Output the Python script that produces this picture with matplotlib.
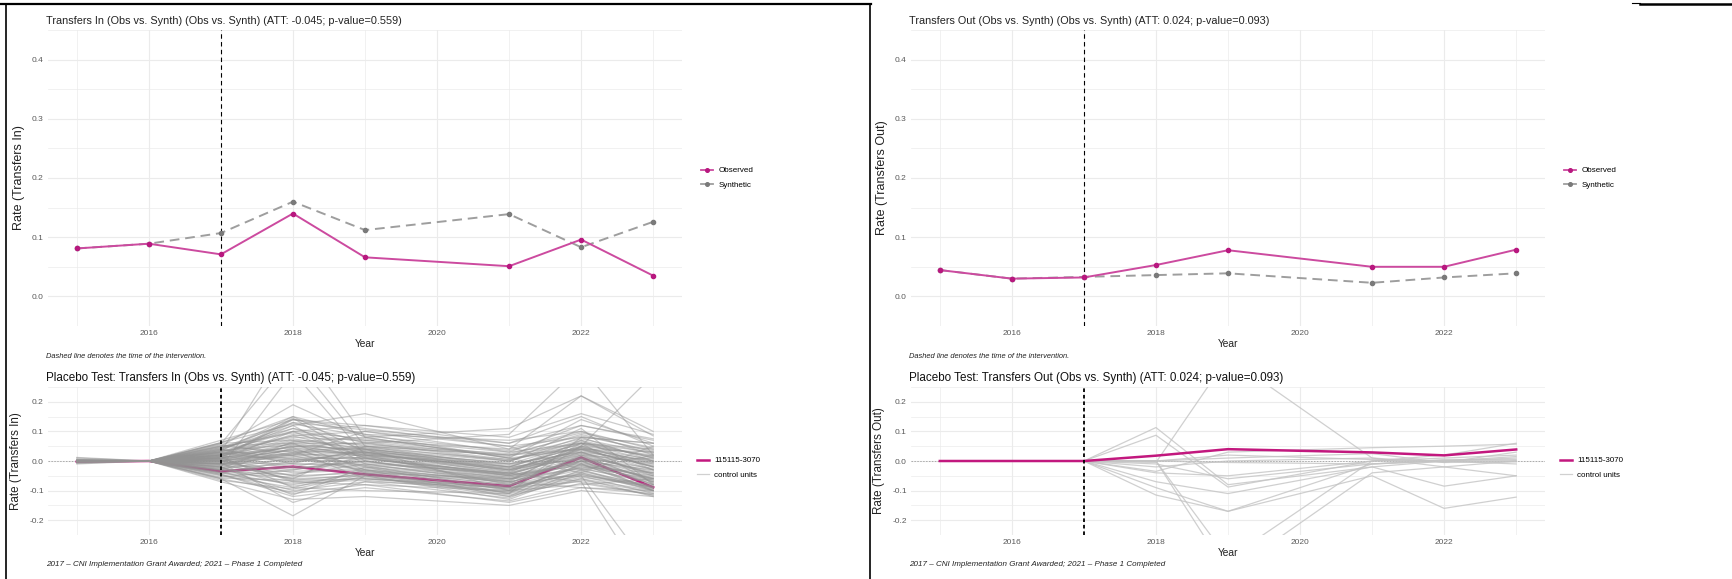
import matplotlib
matplotlib.use('Agg')
import matplotlib.pyplot as plt
from matplotlib.lines import Line2D
import numpy as np

plt.rcParams['font.family'] = ['Liberation Sans', 'DejaVu Sans']

W, H = 1732, 579

years = [2015, 2016, 2017, 2018, 2019, 2021, 2022, 2023]
intervention_year = 2017

### Transfers In: observed vs synthetic
in_observed = [0.081, 0.089, 0.071, 0.140, 0.066, 0.051, 0.096, 0.035]
in_synthetic = [0.081, 0.089, 0.107, 0.160, 0.112, 0.139, 0.083, 0.126]
in_title = 'Transfers In (Obs vs. Synth) (Obs vs. Synth) (ATT: -0.045; p-value=0.559)'
in_placebo_title = 'Placebo Test: Transfers In (Obs vs. Synth) (ATT: -0.045; p-value=0.559)'
in_ylabel = 'Rate (Transfers In)'

### Transfers Out: observed vs synthetic
out_observed = [0.0445, 0.030, 0.032, 0.053, 0.078, 0.050, 0.050, 0.079]
out_synthetic = [0.0445, 0.030, 0.033, 0.036, 0.039, 0.023, 0.032, 0.039]
out_title = 'Transfers Out (Obs vs. Synth) (Obs vs. Synth) (ATT: 0.024; p-value=0.093)'
out_placebo_title = 'Placebo Test: Transfers Out (Obs vs. Synth) (ATT: 0.024; p-value=0.093)'
out_ylabel = 'Rate (Transfers Out)'

treated_unit = '115115-3070'

### Placebo gaps (treated unit)
in_gap = [-0.002, 0.000, -0.035, -0.019, -0.045, -0.085, 0.012, -0.089]
out_gap = [0.000, 0.000, 0.000, 0.018, 0.040, 0.029, 0.019, 0.039]

### Placebo gaps (control units), one row per unit
in_controls = [
  [ 0.010, 0.0,  0.070,  0.140,  0.110,  0.050,  0.080,  0.060],
  [-0.010, 0.0,  0.062,  0.150,  0.090,  0.070,  0.100,  0.040],
  [ 0.005, 0.0,  0.050,  0.190,  0.080,  0.110,  0.220,  0.100],
  [ 0.000, 0.0,  0.040,  0.120,  0.160,  0.040,  0.220,  0.085],
  [-0.005, 0.0,  0.032,  0.100,  0.120,  0.060,  0.150,  0.050],
  [ 0.012, 0.0,  0.022,  0.085,  0.100,  0.030,  0.120,  0.070],
  [ 0.000, 0.0,  0.058,  0.350,  0.050,  0.020,  0.060,  0.030],
  [ 0.000, 0.0,  0.030,  0.420,  0.080,  0.010,  0.040,  0.000],
  [ 0.005, 0.0, -0.020,  0.300,  0.020, -0.020,  0.050,  0.020],
  [ 0.000, 0.0,  0.045,  0.130,  0.060,  0.090,  0.320,  0.020],
  [ 0.000, 0.0,  0.010,  0.050,  0.040, -0.100,  0.050,  0.290],
  [ 0.000, 0.0,  0.000,  0.020,  0.030, -0.040, -0.070, -0.450],
  [ 0.000, 0.0, -0.010, -0.030,  0.010, -0.060, -0.050, -0.380],
  [ 0.000, 0.0,  0.035,  0.140,  0.090,  0.010,  0.140,  0.060],
  [ 0.003, 0.0,  0.025,  0.110,  0.070,  0.020,  0.090,  0.030],
  [-0.004, 0.0,  0.015,  0.090,  0.050,  0.000,  0.070,  0.010],
  [ 0.000, 0.0,  0.020,  0.075,  0.040, -0.010,  0.060,  0.000],
  [ 0.000, 0.0,  0.010,  0.060,  0.030, -0.020,  0.050, -0.010],
  [ 0.006, 0.0,  0.005,  0.050,  0.020, -0.030,  0.040, -0.020],
  [ 0.000, 0.0,  0.000,  0.040,  0.040, -0.035,  0.030, -0.030],
  [ 0.000, 0.0, -0.005,  0.030,  0.030, -0.045,  0.020, -0.040],
  [-0.006, 0.0, -0.010,  0.020,  0.020, -0.050,  0.010, -0.050],
  [ 0.000, 0.0,  0.015,  0.010,  0.010, -0.055,  0.000, -0.060],
  [ 0.000, 0.0,  0.028,  0.000,  0.000, -0.060, -0.010, -0.070],
  [ 0.000, 0.0,  0.040, -0.010, -0.010, -0.070, -0.020, -0.040],
  [ 0.000, 0.0,  0.020, -0.020, -0.020, -0.075,  0.010, -0.080],
  [ 0.000, 0.0,  0.005, -0.040, -0.030, -0.080, -0.030, -0.090],
  [ 0.000, 0.0, -0.015, -0.050, -0.040, -0.090, -0.040, -0.100],
  [ 0.000, 0.0, -0.025, -0.060, -0.050, -0.095, -0.020, -0.060],
  [ 0.000, 0.0, -0.030, -0.070, -0.060, -0.100, -0.050, -0.110],
  [ 0.000, 0.0, -0.040, -0.080, -0.040, -0.110, -0.060, -0.120],
  [ 0.000, 0.0, -0.050, -0.090, -0.030, -0.120, -0.010, -0.100],
  [ 0.000, 0.0, -0.060, -0.105, -0.050, -0.130, -0.040, -0.090],
  [ 0.000, 0.0, -0.070, -0.130, -0.120, -0.150, -0.100, -0.120],
  [-0.008, 0.0, -0.060, -0.185, -0.050, -0.120, -0.060, -0.100],
  [ 0.000, 0.0, -0.045, -0.110, -0.080, -0.140, -0.090, -0.110],
  [ 0.000, 0.0, -0.035, -0.100, -0.070, -0.125, -0.030, -0.100],
  [ 0.000, 0.0, -0.020, -0.115, -0.020, -0.110,  0.000, -0.080],
  [ 0.000, 0.0, -0.010, -0.060,  0.050, -0.020,  0.060,  0.040],
  [ 0.000, 0.0,  0.000,  0.060,  0.060,  0.000,  0.080,  0.060],
  [ 0.000, 0.0,  0.030,  0.080,  0.070,  0.040,  0.100,  0.020],
  [ 0.000, 0.0,  0.050,  0.030,  0.050,  0.020,  0.040, -0.020],
  [ 0.000, 0.0,  0.060,  0.070,  0.020, -0.010,  0.030, -0.050],
  [ 0.000, 0.0,  0.020,  0.120, -0.010, -0.040,  0.070, -0.030],
  [ 0.000, 0.0, -0.030,  0.045, -0.040, -0.060,  0.000,  0.010],
  [ 0.000, 0.0,  0.010, -0.070, -0.080, -0.100, -0.080, -0.060],
  [ 0.000, 0.0, -0.040,  0.000,  0.030, -0.030,  0.040,  0.030],
  [ 0.000, 0.0,  0.025,  0.035, -0.060, -0.085,  0.020, -0.070],
  [ 0.000, 0.0, -0.055, -0.030,  0.000, -0.065,  0.050, -0.020],
  [ 0.000, 0.0,  0.045,  0.100,  0.010, -0.050,  0.000, -0.100],
  [ 0.000, 0.0, -0.025,  0.065,  0.080,  0.010, -0.040,  0.050],
  [ 0.000, 0.0,  0.015, -0.090, -0.100, -0.110,  0.080,  0.000],
  [ 0.000, 0.0,  0.035,  0.150,  0.030, -0.005,  0.110, -0.080],
  [ 0.000, 0.0, -0.005, -0.140, -0.070, -0.090, -0.070, -0.115],
  [ 0.000, 0.0,  0.008,  0.140,  0.120,  0.080,  0.160,  0.090],
  [ 0.000, 0.0,  0.055,  0.020,  0.100,  0.050, -0.030,  0.020],
  [ 0.000, 0.0, -0.012,  0.005, -0.005, -0.045,  0.025, -0.045],
  [ 0.000, 0.0,  0.012,  0.145,  0.000, -0.070, -0.090, -0.100],
  [ 0.000, 0.0,  0.000, -0.050,  0.020, -0.080,  0.000, -0.030],
  [ 0.000, 0.0, -0.018,  0.025, -0.015, -0.100, -0.015, -0.065],
  [ 0.004, 0.0,  0.018,  0.065,  0.045,  0.005,  0.055,  0.015],
  [-0.003, 0.0,  0.008,  0.035,  0.025, -0.025,  0.035, -0.015],
  [ 0.000, 0.0, -0.008,  0.015,  0.005, -0.040,  0.015, -0.035],
  [ 0.000, 0.0, -0.022, -0.010, -0.015, -0.055, -0.005, -0.055],
  [ 0.000, 0.0, -0.032, -0.035, -0.025, -0.070, -0.025, -0.075],
  [ 0.000, 0.0, -0.042, -0.055, -0.035, -0.085, -0.045, -0.095],
  [ 0.000, 0.0,  0.036,  0.055,  0.035, -0.015,  0.045,  0.005],
  [ 0.000, 0.0,  0.048,  0.095,  0.065,  0.015,  0.075,  0.025],
  [ 0.000, 0.0,  0.062,  0.125,  0.085,  0.035,  0.095,  0.045],
  [ 0.000, 0.0, -0.048, -0.075, -0.065, -0.105, -0.055, -0.085],
  [ 0.000, 0.0, -0.065, -0.095, -0.045, -0.115, -0.065, -0.105],
  [ 0.000, 0.0,  0.003,  0.025,  0.045, -0.030,  0.010, -0.025],
  [ 0.000, 0.0,  0.022,  0.045,  0.015, -0.045,  0.030, -0.045],
  [ 0.000, 0.0, -0.028,  0.010, -0.030, -0.065,  0.005, -0.060],
  [ 0.000, 0.0,  0.012, -0.025,  0.000, -0.050, -0.015, -0.050],
  [ 0.000, 0.0,  0.032,  0.085,  0.025, -0.025,  0.025, -0.010],
  [ 0.000, 0.0, -0.015,  0.055,  0.015, -0.035,  0.045, -0.030],
  [ 0.000, 0.0,  0.002, -0.065, -0.045, -0.095, -0.035, -0.085],
  [ 0.000, 0.0,  0.042,  0.110,  0.040,  0.000,  0.065,  0.010],
  [ 0.000, 0.0, -0.038, -0.045, -0.010, -0.075,  0.015, -0.065],
  [ 0.000, 0.0,  0.027, -0.005,  0.035, -0.020,  0.005, -0.040],
  [ 0.000, 0.0, -0.002,  0.040, -0.020, -0.060, -0.025, -0.070],
  [ 0.000, 0.0,  0.016,  0.070,  0.055,  0.025,  0.085,  0.035],
  [ 0.000, 0.0, -0.045, -0.120, -0.090, -0.135, -0.075, -0.115],
  [ 0.000, 0.0,  0.052,  0.060, -0.030, -0.080, -0.045, -0.090],
  [ 0.000, 0.0, -0.020, -0.085, -0.055, -0.105, -0.010, -0.095],
  [ 0.000, 0.0,  0.006,  0.100,  0.075,  0.030,  0.060,  0.015],
  [ 0.000, 0.0, -0.010,  0.028,  0.008, -0.042,  0.038, -0.018],
  [ 0.000, 0.0,  0.038,  0.005,  0.012, -0.048, -0.008, -0.058],
  [ 0.000, 0.0, -0.030, -0.020,  0.025, -0.030,  0.020, -0.005],
  [ 0.000, 0.0,  0.020,  0.130,  0.105,  0.060,  0.120,  0.075],
  [ 0.000, 0.0, -0.058, -0.065, -0.060, -0.090, -0.050, -0.080],
  [ 0.000, 0.0,  0.030,  0.018, -0.035, -0.070,  0.060, -0.075],
  [ 0.000, 0.0, -0.008, -0.008,  0.040, -0.010,  0.030,  0.000],
  [ 0.000, 0.0,  0.010,  0.048,  0.062,  0.005,  0.045, -0.005],
]

out_controls = [
  [0.0, 0.0, 0.0,  0.113, -0.080, -0.020,  0.000, -0.010],
  [0.0, 0.0, 0.0,  0.087, -0.088,  0.000,  0.010,  0.020],
  [0.0, 0.0, 0.0, -0.005,  0.350,  0.010, -0.020, -0.050],
  [0.0, 0.0, 0.0, -0.035,  0.030,  0.045,  0.050,  0.057],
  [0.0, 0.0, 0.0, -0.070, -0.110, -0.020, -0.085, -0.050],
  [0.0, 0.0, 0.0, -0.090, -0.170, -0.050, -0.160, -0.122],
  [0.0, 0.0, 0.0, -0.115, -0.170, -0.010,  0.000,  0.010],
  [0.0, 0.0, 0.0,  0.000, -0.330,  0.000,  0.020,  0.060],
  [0.0, 0.0, 0.0,  0.000, -0.380, -0.040, -0.020,  0.000],
  [0.0, 0.0, 0.0, -0.040, -0.050,  0.000,  0.000,  0.000],
  [0.0, 0.0, 0.0, -0.010, -0.060, -0.010,  0.005,  0.005],
  [0.0, 0.0, 0.0,  0.000,  0.020,  0.005,  0.000,  0.000],
  [0.0, 0.0, 0.0, -0.020,  0.000,  0.010, -0.005, -0.003],
  [0.0, 0.0, 0.0,  0.000, -0.005, -0.010,  0.000,  0.015],
  [0.0, 0.0, 0.0,  0.000,  0.010,  0.025, -0.005,  0.030],
]

caption_top = 'Dashed line denotes the time of the intervention.'
caption_bottom = '2017 \u2013 CNI Implementation Grant Awarded; 2021 \u2013 Phase 1 Completed'

OBS_LINE = '#CC4A9F'
OBS_PT = '#B8187F'
SYN_LINE = '#9E9E9E'
SYN_PT = '#7A7A7A'
GAP_LINE = '#C2187E'
CTRL = '#939393'
GRID = '#EBEBEB'
TICK = '#5A5A5A'


def px_rect(x0, y0, x1, y1):
  return [x0 / W, 1 - y1 / H, (x1 - x0) / W, (y1 - y0) / H]


def style_axes(ax, ylim, yticks):
  ax.set_xlim(2014.6, 2023.4)
  ax.set_ylim(*ylim)
  ax.set_xticks([2016, 2018, 2020, 2022])
  ax.set_xticks([2015, 2017, 2019, 2021, 2023], minor=True)
  ax.set_yticks(yticks)
  ax.set_yticks(np.arange(yticks[0] - 0.05, yticks[-1] + 0.051, 0.05), minor=True)
  ax.set_yticklabels(['%.1f' % t for t in yticks])
  ax.grid(which='major', color=GRID, lw=0.8)
  ax.grid(which='minor', color=GRID, lw=0.5)
  ax.set_axisbelow(True)
  for s in ax.spines.values():
    s.set_visible(False)
  ax.tick_params(which='both', length=0, labelsize=6.0, labelcolor=TICK, pad=3)


def obs_panel(ax, obs, syn, title, ylabel, legend_xy):
  style_axes(ax, (-0.02, 0.42), [0.0, 0.1, 0.2, 0.3, 0.4])
  ax.axvline(intervention_year, color='black', lw=0.8, ls=(0, (4, 3)))
  ax.plot(years, syn, color=SYN_LINE, lw=1.4, ls=(0, (5, 3)), zorder=3)
  ax.plot(years, syn, 'o', color=SYN_PT, ms=3, zorder=4)
  ax.plot(years, obs, color=OBS_LINE, lw=1.4, zorder=5)
  ax.plot(years, obs, 'o', color=OBS_PT, ms=3, zorder=6)
  ax.set_title(title, loc='left', fontsize=7.8, color='#222222', pad=4, x=-0.003)
  ax.set_ylabel(ylabel, fontsize=9.0, color='#222222', labelpad=5)
  ax.set_xlabel('Year', fontsize=7.4, color='#222222', labelpad=1)
  handles = [Line2D([], [], color=OBS_LINE, lw=1.3, marker='o', ms=2.6, mfc=OBS_PT, mec=OBS_PT),
             Line2D([], [], color=SYN_LINE, lw=1.3, marker='o', ms=2.6, mfc=SYN_PT, mec=SYN_PT)]
  ax.legend(handles, ['Observed', 'Synthetic'], loc='center left', frameon=False,
            bbox_to_anchor=legend_xy, bbox_transform=fig.transFigure,
            fontsize=5.8, handlelength=1.4, labelspacing=0.9, handletextpad=0.7)


def placebo_panel(ax, controls, gap, title, ylabel, legend_xy, ctrl_color, ctrl_alpha, gap_on_top):
  style_axes(ax, (-0.22, 0.22), [-0.2, -0.1, 0.0, 0.1, 0.2])
  ax.axhline(0, color='#AAAAAA', lw=0.7, ls=(0, (1.5, 1.5)), zorder=1)
  ax.plot(years, gap, color=GAP_LINE, lw=1.8, zorder=5 if gap_on_top else 2)
  for row in controls:
    ax.plot(years, row, color=ctrl_color, lw=0.9, alpha=ctrl_alpha, zorder=3)
  ax.axvline(intervention_year, color='black', lw=1.3, ls=(0, (2, 1.6)), zorder=6)
  ax.set_title(title, loc='left', fontsize=8.4, color='#111111', pad=4, x=-0.003)
  ax.set_ylabel(ylabel, fontsize=8.4, color='#222222', labelpad=5)
  ax.set_xlabel('Year', fontsize=7.4, color='#222222', labelpad=1)
  handles = [Line2D([], [], color=GAP_LINE, lw=1.8),
             Line2D([], [], color='#D0D0D0', lw=0.9)]
  ax.legend(handles, [treated_unit, 'control units'], loc='center left', frameon=False,
            bbox_to_anchor=legend_xy, bbox_transform=fig.transFigure,
            fontsize=5.8, handlelength=1.4, labelspacing=0.9, handletextpad=0.7)


fig = plt.figure(figsize=(W / 100, H / 100), dpi=100)

ax_in = fig.add_axes(px_rect(48, 30, 682, 326))
ax_in_pl = fig.add_axes(px_rect(48, 387, 682, 535))
ax_out = fig.add_axes(px_rect(911, 30, 1545, 326))
ax_out_pl = fig.add_axes(px_rect(911, 387, 1545, 535))

obs_panel(ax_in, in_observed, in_synthetic, in_title, in_ylabel, (694 / W, 1 - 178 / H))
obs_panel(ax_out, out_observed, out_synthetic, out_title, out_ylabel, (1557 / W, 1 - 178 / H))
placebo_panel(ax_in_pl, in_controls, in_gap, in_placebo_title, in_ylabel,
              (690 / W, 1 - 468 / H), CTRL, 0.48, False)
placebo_panel(ax_out_pl, out_controls, out_gap, out_placebo_title, out_ylabel,
              (1553 / W, 1 - 468 / H), '#C4C4C4', 0.8, True)

### Captions under each panel
for x0 in (46, 909):
  fig.text(x0 / W, 1 - 356 / H, caption_top, fontsize=5.4, style='italic',
           color='#222222', va='center')
  fig.text(x0 / W, 1 - 565 / H, caption_bottom, fontsize=5.75, style='italic',
           color='#222222', va='center')

### Frame lines around the two halves
def fig_line(xs, ys, lw):
  fig.add_artist(Line2D([x / W for x in xs], [1 - y / H for y in ys],
                        color='black', lw=lw, transform=fig.transFigure))

fig_line([0, 871], [4, 4], 1.6)
fig_line([6, 6], [4, 579], 1.2)
fig_line([870, 870], [4, 579], 1.2)
fig_line([1632, 1640], [3, 3], 0.8)
fig_line([1640, 1732], [4, 4], 1.8)

fig.savefig('out.png', dpi=100)
